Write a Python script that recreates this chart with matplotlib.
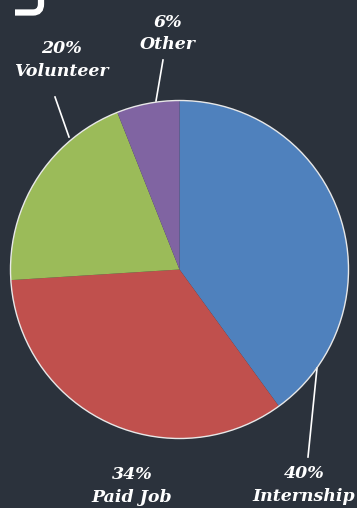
import matplotlib
matplotlib.use("Agg")
import matplotlib.pyplot as plt
from matplotlib.patches import Circle
from matplotlib.path import Path
from matplotlib.patches import PathPatch

categories = ["Internship", "Paid Job", "Volunteer", "Other"]
values = [40, 34, 20, 6]
colors = ["#4f81bd", "#c0504d", "#9bbb59", "#8064a2"]
labels = ["40%\nInternship", "34%\nPaid Job", "20%\nVolunteer", "6%\nOther"]

BG = "#2b323c"
W, H = 357, 508
fig = plt.figure(figsize=(W / 100, H / 100), dpi=100, facecolor=BG)
ax = fig.add_axes([0, 0, 1, 1])
ax.set_facecolor(BG)

cx, cy, r = 179.5, 269.5, 169
# with inverted y, counterclock=True draws clockwise visually; startangle -90 puts start at top
wedges, _ = ax.pie(values, colors=colors, startangle=-90, counterclock=True,
                   center=(cx, cy), radius=r, frame=True,
                   wedgeprops=dict(linewidth=0))
ax.set_xlim(0, W)
ax.set_ylim(H, 0)
ax.set_aspect("equal")
ax.axis("off")
ax.add_patch(Circle((cx, cy), r, fill=False, edgecolor="#e8e8e8", linewidth=1.0, zorder=5))

font = dict(family="DejaVu Serif", weight="bold", style="italic", color="white",
            fontsize=12.5, ha="center", va="center", linespacing=1.42)

# label positions (text centre) and leader lines
ax.text(304, 485, labels[0], **font)
ax.plot([317, 308], [368, 457], color="white", lw=1.2)
ax.text(132, 486, labels[1], **font)
ax.text(61, 60, labels[2], **font)
ax.plot([55, 69], [97, 137], color="white", lw=1.2)
ax.text(168, 33.5, labels[3], **font)
ax.plot([163, 156], [60, 101], color="white", lw=1.2)

# decorative white hook at top-left
verts = [(15, 12.5), (33, 12.5), (41, 12.5), (41, 4), (41, -2)]
codes = [Path.MOVETO, Path.LINETO, Path.CURVE3, Path.CURVE3, Path.LINETO]
ax.add_patch(PathPatch(Path(verts, codes), fill=False, edgecolor="white", lw=4.5, capstyle="butt"))

fig.savefig("out.png", dpi=100, facecolor=BG)
